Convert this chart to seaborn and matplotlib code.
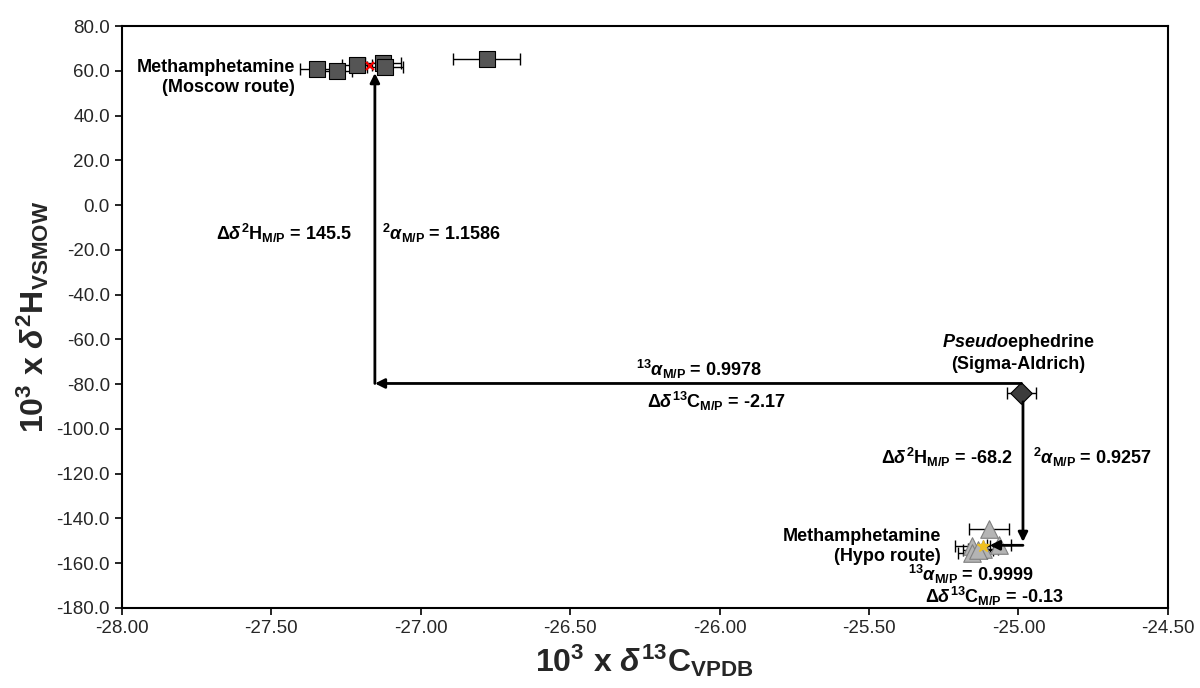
import numpy as np
import matplotlib
matplotlib.use('Agg')
import matplotlib.pyplot as plt
import seaborn as sns
import pandas as pd

# Methamphetamine, Moscow route
moscow_x = [-27.345, -27.281, -27.214, -27.126, -27.119, -26.779]
moscow_y = [60.6, 59.9, 62.6, 63.3, 61.8, 65.2]
moscow_xerr = [0.058, 0.05, 0.05, 0.06, 0.06, 0.113]
moscow_mean = (-27.17, 62.1)

# Methamphetamine, Hypo route
hypo_x = [-25.098, -25.154, -25.154, -25.118, -25.065, -25.135]
hypo_y = [-144.5, -152.5, -155.3, -153.5, -152.0, -154.0]
hypo_xerr = [0.067, 0.06, 0.05, 0.05, 0.04, 0.05]
hypo_mean = (-25.118, -152.4)

# Pseudoephedrine (Sigma-Aldrich)
pseudo_x = [-24.99]
pseudo_y = [-83.9]
pseudo_xerr = [0.05]

# arrow paths
path_c_y = -79.7      # horizontal arrow level towards Moscow route
moscow_tip_y = 59.0
path_h_y = -152.0     # horizontal arrow level towards Hypo route
hypo_tip_y = -150.5

x_ticks = np.arange(-28.0, -24.49, 0.5)
y_ticks = np.arange(-180.0, 80.1, 20.0)

sns.set_style('white')
plt.rcParams['font.family'] = ['Liberation Sans', 'DejaVu Sans']
plt.rcParams['mathtext.fontset'] = 'custom'
plt.rcParams['mathtext.rm'] = 'Liberation Sans:bold'
plt.rcParams['mathtext.it'] = 'Liberation Sans:bold:italic'
plt.rcParams['mathtext.bf'] = 'Liberation Sans:bold'

fig = plt.figure(figsize=(12, 6.88), dpi=100)
ax = fig.add_axes([0.1014, 0.1163, 0.8719, 0.8459])

df_m = pd.DataFrame({'x': moscow_x, 'y': moscow_y})
df_h = pd.DataFrame({'x': hypo_x, 'y': hypo_y})
df_p = pd.DataFrame({'x': pseudo_x, 'y': pseudo_y})

ax.errorbar(moscow_x, moscow_y, xerr=moscow_xerr, fmt='none', ecolor='black',
            elinewidth=1, capsize=4, zorder=2)
ax.errorbar(hypo_x, hypo_y, xerr=hypo_xerr, fmt='none', ecolor='black',
            elinewidth=1, capsize=4, zorder=2)
ax.errorbar(pseudo_x, pseudo_y, xerr=pseudo_xerr, fmt='none', ecolor='black',
            elinewidth=1, capsize=4, zorder=2)

sns.scatterplot(data=df_m, x='x', y='y', marker='s', s=120, color='#555555',
                edgecolor='black', linewidth=0.8, ax=ax, zorder=3)
sns.scatterplot(data=df_h, x='x', y='y', marker='^', s=160, color='#b4b4b4',
                edgecolor='#808080', linewidth=0.8, ax=ax, zorder=3)
sns.scatterplot(data=df_p, x='x', y='y', marker='D', s=120, color='#3c3c3c',
                edgecolor='black', linewidth=0.8, ax=ax, zorder=3)

ax.plot(*moscow_mean, marker='x', color='red', markersize=6, mew=1.5, zorder=4)
ax.plot(*hypo_mean, marker='*', color='#f0c020', markersize=9, zorder=4)

arrow = dict(arrowstyle='-|>', lw=2, color='black', mutation_scale=14,
             shrinkA=0, shrinkB=0)
corner_x = moscow_mean[0] + 0.017
ax.annotate('', xy=(corner_x, path_c_y), xytext=(pseudo_x[0], path_c_y), arrowprops=arrow)
ax.annotate('', xy=(corner_x, moscow_tip_y), xytext=(corner_x, path_c_y), arrowprops=arrow)
down_x = pseudo_x[0] + 0.005
ax.annotate('', xy=(down_x, hypo_tip_y), xytext=(down_x, pseudo_y[0] - 4), arrowprops=arrow)
ax.annotate('', xy=(hypo_mean[0] + 0.022, path_h_y), xytext=(down_x, path_h_y), arrowprops=arrow)

tkw = dict(fontsize=13, fontweight='bold', color='black')
ax.text(-27.42, 57, 'Methamphetamine\n(Moscow route)', ha='right', va='center',
        linespacing=1.25, **tkw)
ax.text(-25.26, -152.5, 'Methamphetamine\n(Hypo route)', ha='right', va='center',
        linespacing=1.25, **tkw)
ax.text(-25.0, -66, '$\\mathit{Pseudo}$ephedrine\n(Sigma-Aldrich)', ha='center', va='center',
        linespacing=1.25, **tkw)

mp = '$_{\\mathrm{M/P}}$'
ax.text(-27.231, -12.7, 'Δ$\\delta^{2}$H' + mp + ' = 145.5', ha='right', va='center', **tkw)
ax.text(-27.13, -12.7, '$^{2}\\alpha$' + mp + ' = 1.1586', ha='left', va='center', **tkw)
ax.text(-26.07, -73.5, '$^{13}\\alpha$' + mp + ' = 0.9978', ha='center', va='center', **tkw)
ax.text(-26.01, -87.6, 'Δ$\\delta^{13}$C' + mp + ' = -2.17', ha='center', va='center', **tkw)
ax.text(-25.02, -112.7, 'Δ$\\delta^{2}$H' + mp + ' = -68.2', ha='right', va='center', **tkw)
ax.text(-24.95, -112.7, '$^{2}\\alpha$' + mp + ' = 0.9257', ha='left', va='center', **tkw)
ax.text(-25.16, -165, '$^{13}\\alpha$' + mp + ' = 0.9999', ha='center', va='center', **tkw)
ax.text(-25.08, -174.8, 'Δ$\\delta^{13}$C' + mp + ' = -0.13', ha='center', va='center', **tkw)

ax.set_xlim(-28.0, -24.5)
ax.set_ylim(-180.0, 80.0)
ax.set_xticks(x_ticks)
ax.set_yticks(y_ticks)
ax.set_xticklabels([f'{v:.2f}' for v in x_ticks], fontsize=13.5)
ax.set_yticklabels([f'{v:.1f}' for v in y_ticks], fontsize=13.5)
ax.tick_params(direction='out', length=5, width=1.2, left=True, bottom=True, color='black')
for sp in ax.spines.values():
    sp.set_color('black')
    sp.set_linewidth(1.5)

ax.set_xlabel('10$^{3}$ x $\\delta^{13}$C$_{\\mathrm{VPDB}}$', fontsize=23, fontweight='bold', labelpad=4)
ax.set_ylabel('10$^{3}$ x $\\delta^{2}$H$_{\\mathrm{VSMOW}}$', fontsize=23, fontweight='bold', labelpad=4)

fig.savefig('out.png', dpi=100)
